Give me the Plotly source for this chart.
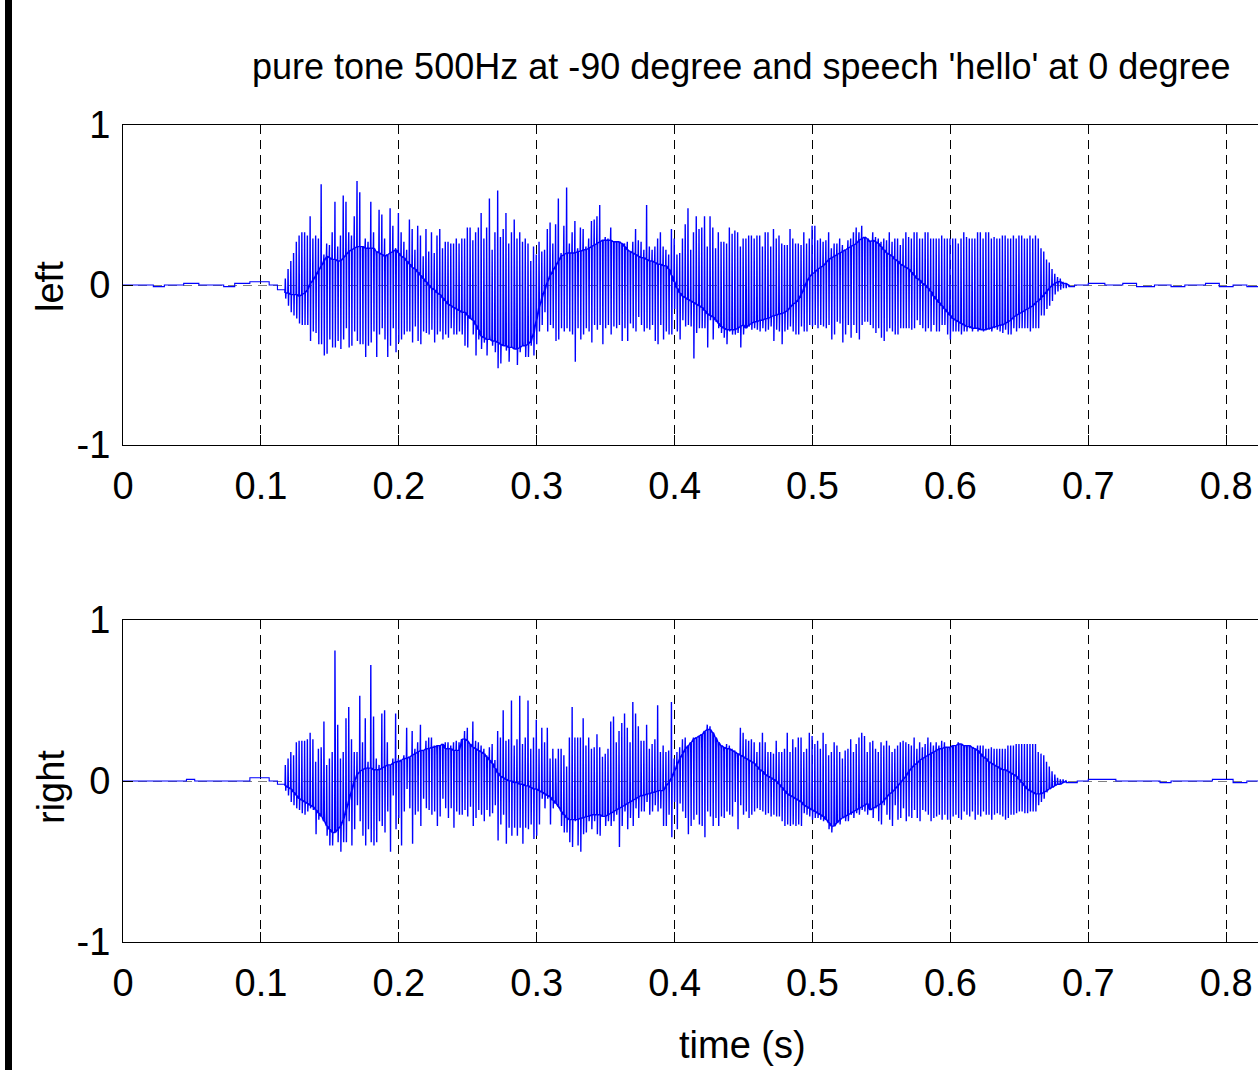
import plotly.graph_objects as go

# ---------------------------------------------------------------------------
# Binaural recording: 500 Hz tone from -90 deg plus the word "hello" from 0 deg.
# Each tone period (2 ms) is described by its peak, its trough and the level of
# the slowly varying speech component it rides on.
# ---------------------------------------------------------------------------
TONE_PERIOD = 0.002          # s, one cycle of the 500 Hz tone
ONSET = 0.1175               # s, first tone cycle

left_top = [
    0.04, 0.10, 0.15, 0.20, 0.27, 0.31, 0.33, 0.33, 0.31, 0.43,
    0.29, 0.31, 0.29, 0.63, 0.19, 0.26, 0.25, 0.33, 0.52, 0.24,
    0.31, 0.56, 0.52, 0.33, 0.31, 0.43, 0.65, 0.58, 0.24, 0.29,
    0.27, 0.52, 0.33, 0.18, 0.47, 0.44, 0.29, 0.16, 0.48, 0.37,
    0.23, 0.45, 0.33, 0.27, 0.22, 0.41, 0.35, 0.22, 0.37, 0.31,
    0.18, 0.35, 0.21, 0.33, 0.20, 0.31, 0.35, 0.23, 0.27, 0.27,
    0.26, 0.26, 0.29, 0.26, 0.29,
    0.29, 0.36, 0.36, 0.28, 0.33, 0.36, 0.45, 0.29, 0.36, 0.54,
    0.22, 0.33, 0.59, 0.30, 0.35, 0.45, 0.26, 0.33, 0.41, 0.29,
    0.33, 0.27, 0.29, 0.26, 0.15, 0.24, 0.19, 0.27, 0.21, 0.22,
    0.35, 0.39, 0.26, 0.38, 0.54, 0.20, 0.37, 0.61, 0.26, 0.33,
    0.40, 0.23, 0.36, 0.35, 0.24, 0.29, 0.40, 0.41, 0.43, 0.50,
    0.28, 0.30, 0.29, 0.36, 0.27, 0.26, 0.26, 0.26, 0.26, 0.27,
    0.21, 0.27, 0.35, 0.28, 0.27, 0.22, 0.50, 0.24, 0.22, 0.24,
    0.29, 0.33, 0.24, 0.22,
    0.19, 0.35, 0.29, 0.19, 0.20, 0.29, 0.38, 0.48, 0.22, 0.33,
    0.43, 0.35, 0.36, 0.43, 0.24, 0.43, 0.36, 0.23, 0.33, 0.27,
    0.27, 0.26, 0.36, 0.32, 0.34, 0.33, 0.24, 0.29, 0.29, 0.31,
    0.31, 0.29, 0.31, 0.31, 0.24, 0.33, 0.33, 0.24, 0.35, 0.29,
    0.31, 0.26, 0.25, 0.25, 0.35, 0.29, 0.26, 0.26, 0.25, 0.33,
    0.26, 0.29, 0.37, 0.37, 0.28, 0.29, 0.27, 0.28, 0.33, 0.23,
    0.26, 0.26, 0.29, 0.25, 0.21, 0.28, 0.29, 0.33, 0.36, 0.33,
    0.37, 0.29, 0.28, 0.28,
    0.33, 0.30, 0.29, 0.27, 0.29, 0.28, 0.33, 0.27, 0.29, 0.29,
    0.25, 0.29, 0.33, 0.30, 0.29, 0.33, 0.33, 0.29, 0.29, 0.33,
    0.33, 0.29, 0.29, 0.29, 0.29, 0.31, 0.29, 0.29, 0.29, 0.29,
    0.29, 0.26, 0.29, 0.33, 0.30, 0.29, 0.29, 0.29, 0.33, 0.33,
    0.29, 0.33, 0.33, 0.29, 0.30, 0.29, 0.29, 0.31, 0.31, 0.29,
    0.29, 0.31, 0.29, 0.31, 0.31, 0.29, 0.29, 0.31, 0.29, 0.31,
    0.29, 0.23, 0.21, 0.16, 0.14, 0.10, 0.07, 0.05, 0.04, 0.02,
    0.01, 0.00,
]

left_bottom = [
    -0.085, -0.13, -0.17, -0.19, -0.21, -0.24, -0.25, -0.25, -0.25, -0.35,
    -0.29, -0.30, -0.37, -0.37, -0.44, -0.43, -0.34, -0.39, -0.39, -0.35,
    -0.40, -0.34, -0.27, -0.39, -0.38, -0.29, -0.35, -0.37, -0.37, -0.45,
    -0.38, -0.36, -0.29, -0.45, -0.31, -0.27, -0.34, -0.45, -0.38, -0.27,
    -0.42, -0.36, -0.34, -0.31, -0.29, -0.29, -0.36, -0.26, -0.35, -0.37,
    -0.29, -0.30, -0.31, -0.28, -0.36, -0.31, -0.29, -0.34, -0.31, -0.33,
    -0.27, -0.31, -0.31, -0.29, -0.31,
    -0.38, -0.39, -0.19, -0.31, -0.44, -0.34, -0.40, -0.36, -0.44, -0.31,
    -0.38, -0.42, -0.52, -0.49, -0.34, -0.41, -0.48, -0.38, -0.35, -0.50,
    -0.42, -0.35, -0.45, -0.45, -0.38, -0.44, -0.37, -0.29, -0.25, -0.17,
    -0.29, -0.25, -0.27, -0.35, -0.34, -0.27, -0.29, -0.27, -0.29, -0.31,
    -0.48, -0.27, -0.34, -0.31, -0.27, -0.29, -0.36, -0.25, -0.28, -0.25,
    -0.37, -0.27, -0.25, -0.31, -0.26, -0.27, -0.25, -0.35, -0.27, -0.35,
    -0.24, -0.27, -0.29, -0.20, -0.25, -0.29, -0.27, -0.28, -0.25, -0.35,
    -0.37, -0.25, -0.34, -0.29,
    -0.31, -0.31, -0.15, -0.29, -0.34, -0.22, -0.26, -0.25, -0.26, -0.46,
    -0.30, -0.27, -0.27, -0.27, -0.39, -0.22, -0.34, -0.23, -0.27, -0.30,
    -0.33, -0.37, -0.29, -0.31, -0.31, -0.30, -0.39, -0.31, -0.27, -0.26,
    -0.28, -0.27, -0.28, -0.29, -0.27, -0.29, -0.28, -0.26, -0.35, -0.28,
    -0.29, -0.37, -0.29, -0.28, -0.26, -0.29, -0.31, -0.31, -0.26, -0.29,
    -0.29, -0.25, -0.26, -0.25, -0.27, -0.25, -0.26, -0.27, -0.25, -0.34,
    -0.31, -0.23, -0.24, -0.36, -0.31, -0.25, -0.33, -0.25, -0.30, -0.34,
    -0.25, -0.23, -0.23, -0.25,
    -0.27, -0.30, -0.27, -0.33, -0.35, -0.29, -0.27, -0.29, -0.31, -0.31,
    -0.27, -0.27, -0.27, -0.27, -0.28, -0.27, -0.22, -0.25, -0.27, -0.29,
    -0.27, -0.29, -0.25, -0.29, -0.29, -0.25, -0.25, -0.31, -0.34, -0.29,
    -0.29, -0.29, -0.31, -0.29, -0.29, -0.27, -0.29, -0.27, -0.29, -0.27,
    -0.29, -0.27, -0.28, -0.29, -0.27, -0.28, -0.29, -0.30, -0.28, -0.31,
    -0.31, -0.27, -0.29, -0.27, -0.27, -0.27, -0.27, -0.29, -0.27, -0.27,
    -0.27, -0.19, -0.19, -0.15, -0.13, -0.10, -0.06, -0.04, -0.03, -0.02,
    -0.02, -0.01,
]

left_speech = [
    -0.05, -0.05, -0.06, -0.06, -0.06, -0.07, -0.06, -0.05,
    -0.03, 0.01, 0.03, 0.06, 0.09, 0.12, 0.15, 0.18,
    0.17, 0.16, 0.16, 0.15, 0.15, 0.17, 0.19, 0.21,
    0.22, 0.23, 0.24, 0.24, 0.24, 0.23, 0.23, 0.23,
    0.23, 0.21, 0.20, 0.19, 0.18, 0.19, 0.20, 0.21,
    0.22, 0.20, 0.18, 0.17, 0.15, 0.13, 0.11, 0.10,
    0.08, 0.06, 0.04, 0.02, 0.00, -0.02, -0.03, -0.05,
    -0.06, -0.08, -0.10, -0.12, -0.13, -0.14, -0.15, -0.16, -0.17,
    -0.17, -0.19, -0.21, -0.22,
    -0.25, -0.28, -0.32, -0.33,
    -0.34, -0.34, -0.35, -0.35, -0.36, -0.37, -0.38, -0.38,
    -0.39, -0.39, -0.40, -0.40, -0.39, -0.38, -0.38, -0.37,
    -0.35, -0.30, -0.22, -0.14,
    -0.08, -0.03, 0.02, 0.06,
    0.09, 0.12, 0.15, 0.18, 0.19, 0.20, 0.20, 0.20,
    0.20, 0.21, 0.21, 0.22, 0.22, 0.23, 0.24, 0.25,
    0.26, 0.27, 0.28, 0.28, 0.28, 0.28, 0.27, 0.27,
    0.27, 0.26, 0.24, 0.22, 0.21, 0.20, 0.19, 0.18,
    0.17, 0.17, 0.16, 0.15, 0.15, 0.14, 0.13, 0.13, 0.12, 0.12,
    0.10, 0.06, 0.02, -0.02, -0.05, -0.07,
    -0.08, -0.09, -0.10, -0.11, -0.12, -0.13,
    -0.14, -0.16, -0.18, -0.19, -0.20, -0.22,
    -0.24, -0.26, -0.27, -0.28, -0.28, -0.28, -0.28, -0.27, -0.26, -0.25,
    -0.27, -0.25, -0.24, -0.23, -0.23, -0.22, -0.22, -0.21,
    -0.21, -0.20, -0.19, -0.19, -0.18, -0.18, -0.17, -0.16,
    -0.14, -0.12, -0.11, -0.09, -0.06, -0.02,
    0.02, 0.05, 0.07, 0.08, 0.10, 0.11,
    0.12, 0.14, 0.16, 0.17, 0.18, 0.19,
    0.20, 0.21, 0.22, 0.23, 0.24, 0.25,
    0.26, 0.28, 0.29, 0.30, 0.29, 0.27,
    0.28, 0.27, 0.26, 0.24, 0.22,
    0.20, 0.19, 0.18, 0.16, 0.15,
    0.13, 0.12, 0.11, 0.10, 0.08,
    0.06, 0.04, 0.03, 0.01, 0.00,
    -0.02, -0.04, -0.07, -0.09, -0.11,
    -0.13, -0.15, -0.17, -0.19, -0.21,
    -0.22, -0.23, -0.24, -0.25, -0.26,
    -0.26, -0.27, -0.27, -0.27, -0.28, -0.28, -0.28, -0.27, -0.27, -0.26,
    -0.26, -0.25, -0.25, -0.24, -0.23,
    -0.22, -0.20, -0.19, -0.18, -0.17,
    -0.16, -0.15, -0.14, -0.13, -0.11,
    -0.10, -0.08, -0.06, -0.04, -0.02, 0.00,
    0.01, 0.02, 0.02, 0.01, 0.01, 0.00,
]

right_top = [
    0.10, 0.14, 0.18, 0.16, 0.24, 0.25, 0.25, 0.25, 0.26, 0.30,
    0.26, 0.12, 0.20, 0.21, 0.37, 0.10, 0.14, 0.18, 0.81, 0.35,
    0.14, 0.18, 0.39, 0.46, 0.26, 0.18, 0.18, 0.53, 0.24, 0.39,
    0.12, 0.72, 0.40, 0.14, 0.10, 0.42, 0.44, 0.24, 0.10, 0.14,
    0.42, 0.14, 0.11, 0.16, 0.33, 0.14, 0.31, 0.20, 0.24, 0.35,
    0.18, 0.25, 0.27, 0.27, 0.22, 0.16, 0.19, 0.22, 0.24, 0.24,
    0.22, 0.24, 0.25, 0.24,
    0.24, 0.31, 0.33, 0.20, 0.37, 0.25, 0.24, 0.22, 0.20, 0.16,
    0.21, 0.23, 0.13, 0.31, 0.27, 0.44, 0.25, 0.26, 0.50, 0.22,
    0.26, 0.53, 0.23, 0.27, 0.50, 0.20, 0.27, 0.38, 0.20, 0.33,
    0.24, 0.33, 0.14, 0.20, 0.14, 0.20, 0.20, 0.16, 0.09, 0.27,
    0.46, 0.27, 0.27, 0.27, 0.39, 0.22, 0.27, 0.20, 0.21, 0.29,
    0.21, 0.15, 0.17, 0.20, 0.37, 0.40, 0.24, 0.31, 0.36, 0.42,
    0.33, 0.24, 0.49, 0.42, 0.34, 0.25, 0.25, 0.35, 0.20, 0.23,
    0.26, 0.47, 0.18, 0.22,
    0.18, 0.19, 0.49, 0.14, 0.18, 0.21, 0.26, 0.27, 0.15, 0.18,
    0.27, 0.26, 0.27, 0.20, 0.24, 0.35, 0.34, 0.30, 0.23, 0.20,
    0.20, 0.18, 0.23, 0.22, 0.20, 0.19, 0.14, 0.33, 0.30, 0.26,
    0.25, 0.26, 0.24, 0.18, 0.24, 0.30, 0.24, 0.18, 0.18, 0.17,
    0.25, 0.18, 0.18, 0.20, 0.30, 0.18, 0.26, 0.21, 0.27, 0.27,
    0.18, 0.20, 0.30, 0.28, 0.23, 0.25, 0.20, 0.30, 0.23, 0.16,
    0.18, 0.24, 0.22, 0.18, 0.14, 0.19, 0.20, 0.26, 0.18, 0.23,
    0.27, 0.30, 0.28, 0.18,
    0.24, 0.25, 0.20, 0.18, 0.24, 0.22, 0.25, 0.22, 0.18, 0.20,
    0.22, 0.24, 0.25, 0.24, 0.23, 0.22, 0.27, 0.20, 0.24, 0.21,
    0.23, 0.27, 0.24, 0.22, 0.24, 0.22, 0.25, 0.24, 0.20, 0.18,
    0.20, 0.22, 0.24, 0.23, 0.22, 0.20, 0.20, 0.20, 0.20, 0.22,
    0.22, 0.22, 0.20, 0.20, 0.21, 0.20, 0.20, 0.20, 0.20, 0.20,
    0.22, 0.22, 0.22, 0.23, 0.23, 0.23, 0.23, 0.23, 0.23, 0.23,
    0.23, 0.18, 0.17, 0.16, 0.12, 0.09, 0.06, 0.04, 0.02, 0.01,
    0.01, 0.00,
]

right_bottom = [
    -0.06, -0.09, -0.13, -0.15, -0.17, -0.18, -0.20, -0.21, -0.19, -0.17,
    -0.18, -0.33, -0.24, -0.22, -0.19, -0.34, -0.40, -0.40, -0.29, -0.38,
    -0.44, -0.38, -0.38, -0.25, -0.40, -0.30, -0.15, -0.25, -0.34, -0.40,
    -0.30, -0.38, -0.40, -0.38, -0.25, -0.28, -0.32, -0.19, -0.44, -0.09,
    -0.30, -0.23, -0.40, -0.19, -0.05, -0.17, -0.39, -0.21, -0.19, -0.28,
    -0.11, -0.17, -0.18, -0.21, -0.19, -0.28, -0.22, -0.11, -0.17, -0.23,
    -0.17, -0.29, -0.19, -0.21,
    -0.21, -0.18, -0.22, -0.16, -0.28, -0.23, -0.18, -0.21, -0.25, -0.18,
    -0.22, -0.20, -0.15, -0.37, -0.27, -0.21, -0.39, -0.29, -0.34, -0.29,
    -0.34, -0.29, -0.39, -0.29, -0.30, -0.27, -0.36, -0.34, -0.27, -0.11,
    -0.17, -0.11, -0.27, -0.17, -0.11, -0.17, -0.28, -0.32, -0.32, -0.38,
    -0.41, -0.25, -0.40, -0.44, -0.33, -0.32, -0.25, -0.30, -0.25, -0.33,
    -0.34, -0.22, -0.28, -0.25, -0.28, -0.25, -0.21, -0.41, -0.28, -0.19,
    -0.30, -0.23, -0.28, -0.17, -0.23, -0.19, -0.19, -0.13, -0.21, -0.19,
    -0.15, -0.19, -0.17, -0.28,
    -0.28, -0.21, -0.35, -0.13, -0.30, -0.14, -0.19, -0.23, -0.33, -0.28,
    -0.24, -0.21, -0.27, -0.28, -0.35, -0.19, -0.22, -0.28, -0.23, -0.28,
    -0.22, -0.23, -0.19, -0.21, -0.22, -0.13, -0.30, -0.15, -0.21, -0.19,
    -0.23, -0.21, -0.19, -0.17, -0.18, -0.19, -0.21, -0.20, -0.22, -0.21,
    -0.22, -0.22, -0.25, -0.28, -0.27, -0.28, -0.27, -0.28, -0.27, -0.28,
    -0.20, -0.21, -0.22, -0.24, -0.23, -0.23, -0.24, -0.25, -0.24, -0.30,
    -0.32, -0.23, -0.25, -0.27, -0.21, -0.25, -0.25, -0.21, -0.23, -0.20,
    -0.21, -0.18, -0.19, -0.21,
    -0.17, -0.23, -0.17, -0.25, -0.27, -0.15, -0.21, -0.24, -0.28, -0.15,
    -0.24, -0.23, -0.17, -0.25, -0.22, -0.23, -0.18, -0.23, -0.25, -0.18,
    -0.19, -0.21, -0.25, -0.23, -0.22, -0.21, -0.24, -0.21, -0.24, -0.24,
    -0.22, -0.21, -0.23, -0.24, -0.19, -0.21, -0.22, -0.19, -0.24, -0.21,
    -0.22, -0.19, -0.21, -0.21, -0.24, -0.21, -0.20, -0.21, -0.22, -0.24,
    -0.23, -0.21, -0.21, -0.20, -0.19, -0.19, -0.20, -0.20, -0.19, -0.19,
    -0.19, -0.15, -0.13, -0.11, -0.07, -0.05, -0.03, -0.02, -0.02, -0.02,
    -0.01, -0.01,
]

right_speech = [
    -0.03, -0.04, -0.05, -0.07,
    -0.09, -0.11, -0.12, -0.13, -0.14, -0.15,
    -0.16, -0.18, -0.20, -0.22, -0.25, -0.28,
    -0.30, -0.32, -0.32, -0.30, -0.28, -0.24,
    -0.18, -0.12, -0.06, 0.00, 0.04, 0.06,
    0.07, 0.08, 0.08, 0.08, 0.07, 0.07,
    0.07, 0.08, 0.09, 0.10, 0.10, 0.11,
    0.12, 0.12, 0.13, 0.14, 0.14, 0.15,
    0.16, 0.17, 0.18, 0.19, 0.19, 0.20,
    0.20, 0.21, 0.21, 0.22, 0.22, 0.23,
    0.20, 0.20, 0.20, 0.19, 0.19, 0.19,
    0.26, 0.26, 0.25, 0.23, 0.21, 0.20,
    0.19, 0.18, 0.17, 0.15, 0.13, 0.11,
    0.08, 0.05, 0.03, 0.02, 0.01, 0.00,
    0.00, -0.01, -0.01, -0.02, -0.02, -0.03, -0.03, -0.04,
    -0.05, -0.05, -0.06, -0.07, -0.08, -0.09, -0.10, -0.12,
    -0.14, -0.16, -0.19, -0.21, -0.23, -0.24, -0.24, -0.24,
    -0.24, -0.23, -0.23, -0.22, -0.22, -0.21, -0.21, -0.21,
    -0.21, -0.22, -0.22, -0.21, -0.20, -0.19, -0.18, -0.17,
    -0.16, -0.15, -0.14, -0.13, -0.12, -0.11, -0.10, -0.09,
    -0.09, -0.08, -0.08, -0.07, -0.07, -0.06, -0.06, -0.06,
    -0.03, -0.01, 0.02, 0.06, 0.10,
    0.14, 0.17, 0.20, 0.22, 0.24,
    0.26, 0.27, 0.28, 0.29, 0.31,
    0.32, 0.32, 0.30, 0.27, 0.24,
    0.22, 0.21, 0.20, 0.20, 0.19,
    0.18, 0.17, 0.16, 0.15, 0.14,
    0.13, 0.12, 0.11, 0.09, 0.07,
    0.06, 0.04, 0.03, 0.02, 0.01,
    0.00, -0.02, -0.04, -0.06, -0.08,
    -0.09, -0.10, -0.11, -0.12, -0.13,
    -0.15, -0.16, -0.17, -0.18, -0.19,
    -0.20, -0.21, -0.22, -0.24, -0.26,
    -0.28, -0.28, -0.26, -0.24, -0.23,
    -0.22, -0.21, -0.20, -0.19, -0.18,
    -0.17, -0.16, -0.15, -0.14,
    -0.18, -0.17, -0.16, -0.15, -0.14,
    -0.12, -0.10, -0.08, -0.07, -0.05,
    -0.03, -0.01, 0.01, 0.03, 0.06,
    0.08, 0.10, 0.11, 0.13, 0.14,
    0.15, 0.16, 0.17, 0.18, 0.19,
    0.20, 0.20, 0.21, 0.21, 0.21,
    0.22, 0.22, 0.23, 0.23, 0.22,
    0.22, 0.22, 0.21, 0.20, 0.19,
    0.17, 0.15, 0.14, 0.12, 0.11,
    0.10, 0.09, 0.08, 0.07, 0.07,
    0.06, 0.05, 0.04, 0.03, 0.01,
    -0.01, -0.03, -0.05, -0.06, -0.07,
    -0.08, -0.08, -0.08, -0.07, -0.06,
    -0.05, -0.04, -0.03, -0.02, -0.02, -0.01, 0.00,
]

# quiet stretches before and after the word (step-wise, quantised levels)
left_pre_t = [0.000, 0.022, 0.030, 0.044, 0.055, 0.073, 0.081, 0.092, 0.100, 0.106, 0.112, 0.1175]
left_pre_v = [0.00, -0.01, 0.00, 0.01, 0.00, -0.01, 0.01, 0.02, 0.02, 0.00, -0.03, -0.05]
left_post_t = [0.686, 0.690, 0.700, 0.712, 0.725, 0.735, 0.748, 0.760, 0.770, 0.785, 0.795, 0.805, 0.815, 0.824]
left_post_v = [-0.01, 0.00, 0.01, 0.00, 0.01, -0.01, 0.00, -0.01, 0.00, 0.01, -0.01, 0.00, -0.01, 0.00]

right_pre_t = [0.000, 0.040, 0.046, 0.052, 0.085, 0.092, 0.100, 0.106, 0.112, 0.1175]
right_pre_v = [0.00, 0.00, 0.01, 0.00, 0.00, 0.02, 0.02, 0.00, -0.02, -0.03]
right_post_t = [0.684, 0.692, 0.700, 0.710, 0.720, 0.745, 0.752, 0.760, 0.775, 0.790, 0.798, 0.805, 0.815, 0.824]
right_post_v = [-0.01, 0.00, 0.01, 0.01, 0.00, 0.00, -0.01, 0.00, 0.00, 0.01, 0.01, -0.01, 0.00, 0.00]

x_ticks = [0, 0.1, 0.2, 0.3, 0.4, 0.5, 0.6, 0.7, 0.8]
x_ticktext = ["0", "0.1", "0.2", "0.3", "0.4", "0.5", "0.6", "0.7", "0.8"]
y_ticks = [-1, 0, 1]
y_ticktext = ["-1", "0", "1"]


def tone_trace(tops, bottoms, speech):
    """Polyline through every tone cycle: speech level -> peak -> trough -> speech level."""
    xs, ys = [], []
    for i, (hi, lo, mid) in enumerate(zip(tops, bottoms, speech)):
        t = ONSET + i * TONE_PERIOD
        xs += [t, t + 0.0002, t + 0.0005, t + 0.0007]
        ys += [mid, hi, lo, mid]
    return xs, ys


W, H = 1258, 1070
ML = 123
FONT = "Liberation Sans Narrow, Arial Narrow, Liberation Sans, Arial, sans-serif"
BLUE = "#0000ff"
TICK_SIZE = 38
TEXT_SIZE = 38
LINE_W = 1.4

fig = go.Figure()

for axis_id, (pre_t, pre_v, tops, bots, speech, post_t, post_v) in (
    ("", (left_pre_t, left_pre_v, left_top, left_bottom, left_speech, left_post_t, left_post_v)),
    ("2", (right_pre_t, right_pre_v, right_top, right_bottom, right_speech, right_post_t, right_post_v)),
):
    xa, ya = "x" + axis_id, "y" + axis_id
    fig.add_trace(go.Scatter(x=pre_t, y=pre_v, mode="lines", line=dict(color=BLUE, width=1.1, shape="hv"),
                             xaxis=xa, yaxis=ya, showlegend=False, hoverinfo="skip"))
    tx, ty = tone_trace(tops, bots, speech)
    fig.add_trace(go.Scatter(x=tx, y=ty, mode="lines", line=dict(color=BLUE, width=LINE_W),
                             xaxis=xa, yaxis=ya, showlegend=False, hoverinfo="skip"))
    fig.add_trace(go.Scatter(x=[tx[-1]] + post_t, y=[ty[-1]] + post_v, mode="lines",
                             line=dict(color=BLUE, width=1.1, shape="hv"),
                             xaxis=xa, yaxis=ya, showlegend=False, hoverinfo="skip"))


def py(px):
    return (H - px) / H


def px_x(px):
    return (px - ML) / (W - ML)


x_common = dict(
    range=[0, (W - ML) / 1379.0], tickvals=x_ticks, ticktext=x_ticktext,
    showgrid=True, gridcolor="black", gridwidth=1, griddash="9px,6px",
    ticks="inside", ticklen=10, tickcolor="black", tickwidth=1,
    showline=True, linecolor="black", linewidth=1, mirror=True,
    zeroline=False, ticklabeloverflow="allow", ticklabelstandoff=7,
    automargin=False,
    tickfont=dict(family=FONT, size=TICK_SIZE, color="black"),
)
y_common = dict(
    range=[-1, 1], tickvals=y_ticks, ticktext=y_ticktext,
    showgrid=True, gridcolor="#808080", gridwidth=1, griddash="9px,6px",
    ticks="inside", ticklen=10, tickcolor="black", tickwidth=1,
    showline=True, linecolor="black", linewidth=1, mirror=False,
    zeroline=False, ticklabelstandoff=4, automargin=False,
    tickfont=dict(family=FONT, size=TICK_SIZE, color="black"),
)

fig.update_layout(
    width=W, height=H,
    margin=dict(l=ML, r=0, t=0, b=0, pad=0, autoexpand=False),
    paper_bgcolor="white", plot_bgcolor="white",
    showlegend=False,
    xaxis=dict(domain=[0, 1], anchor="y", **x_common),
    yaxis=dict(domain=[py(445), py(125)], anchor="x", **y_common),
    xaxis2=dict(domain=[0, 1], anchor="y2", **x_common),
    yaxis2=dict(domain=[py(942), py(620)], anchor="x2", **y_common),
    font=dict(family=FONT, color="black"),
)

fig.add_annotation(text="pure tone 500Hz at -90 degree and speech 'hello' at 0 degree",
                   xref="paper", yref="paper", x=px_x(741), y=py(67),
                   xanchor="center", yanchor="middle", showarrow=False,
                   font=dict(family=FONT, size=36, color="black"))
fig.add_annotation(text="left", xref="paper", yref="paper", x=px_x(50), y=py(287),
                   textangle=-90, xanchor="center", yanchor="middle", showarrow=False,
                   font=dict(family=FONT, size=TEXT_SIZE, color="black"))
fig.add_annotation(text="right", xref="paper", yref="paper", x=px_x(51), y=py(787),
                   textangle=-90, xanchor="center", yanchor="middle", showarrow=False,
                   font=dict(family=FONT, size=TEXT_SIZE, color="black"))
fig.add_annotation(text="time (s)", xref="paper", yref="paper", x=px_x(742), y=py(1045),
                   xanchor="center", yanchor="middle", showarrow=False,
                   font=dict(family=FONT, size=TEXT_SIZE, color="black"))

# thick frame edge along the left border of the figure
fig.add_shape(type="rect", xref="paper", yref="paper",
              x0=px_x(5), x1=px_x(12), y0=0, y1=1,
              fillcolor="black", line=dict(width=0), layer="above")

fig.write_html("out.html")
